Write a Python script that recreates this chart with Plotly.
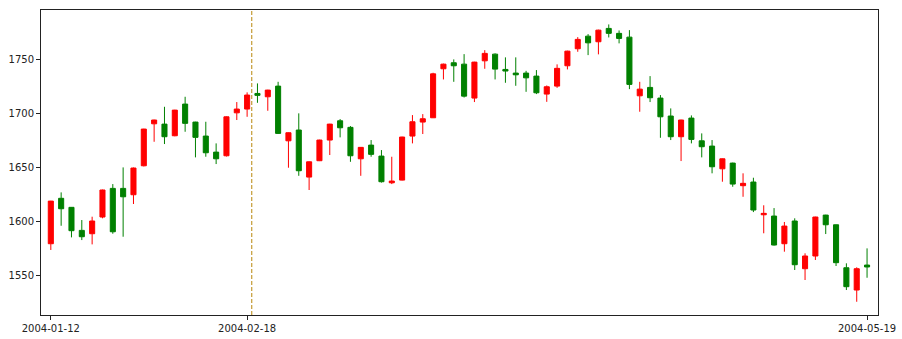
import plotly.graph_objects as go

dates = [
    "2004-01-12", "2004-01-13", "2004-01-14", "2004-01-15", "2004-01-16",
    "2004-01-29", "2004-01-30",
    "2004-02-02", "2004-02-03", "2004-02-04", "2004-02-05", "2004-02-06",
    "2004-02-09", "2004-02-10", "2004-02-11", "2004-02-12", "2004-02-13",
    "2004-02-16", "2004-02-17", "2004-02-18", "2004-02-19", "2004-02-20",
    "2004-02-23", "2004-02-24", "2004-02-25", "2004-02-26", "2004-02-27",
    "2004-03-01", "2004-03-02", "2004-03-03", "2004-03-04", "2004-03-05",
    "2004-03-08", "2004-03-09", "2004-03-10", "2004-03-11", "2004-03-12",
    "2004-03-15", "2004-03-16", "2004-03-17", "2004-03-18", "2004-03-19",
    "2004-03-22", "2004-03-23", "2004-03-24", "2004-03-25", "2004-03-26",
    "2004-03-29", "2004-03-30", "2004-03-31",
    "2004-04-01", "2004-04-02",
    "2004-04-05", "2004-04-06", "2004-04-07", "2004-04-08", "2004-04-09",
    "2004-04-12", "2004-04-13", "2004-04-14", "2004-04-15", "2004-04-16",
    "2004-04-19", "2004-04-20", "2004-04-21", "2004-04-22", "2004-04-23",
    "2004-04-26", "2004-04-27", "2004-04-28", "2004-04-29", "2004-04-30",
    "2004-05-10", "2004-05-11", "2004-05-12", "2004-05-13", "2004-05-14",
    "2004-05-17", "2004-05-18", "2004-05-19",
]

opens = [
    1579.2, 1621.4, 1613.0, 1591.6, 1588.5, 1604.0, 1630.6, 1630.6, 1624.7, 1651.6,
    1690.6, 1690.3, 1679.5, 1708.9, 1692.2, 1679.2, 1664.3, 1660.9, 1700.8, 1704.3,
    1718.8, 1715.7, 1725.6, 1674.8, 1684.8, 1641.1, 1656.3, 1675.5, 1693.4, 1687.3,
    1658.1, 1670.8, 1660.6, 1635.8, 1638.3, 1679.2, 1692.2, 1696.2, 1741.7, 1747.3,
    1746.0, 1714.5, 1749.1, 1755.3, 1741.1, 1737.7, 1737.7, 1734.9, 1718.2, 1725.6,
    1744.5, 1760.3, 1772.0, 1766.8, 1779.2, 1774.6, 1771.1, 1716.6, 1724.4, 1714.5,
    1697.8, 1678.6, 1695.9, 1674.8, 1669.9, 1648.8, 1654.1, 1633.1, 1636.5, 1606.1,
    1604.9, 1579.2, 1600.3, 1556.0, 1567.8, 1605.8, 1596.8, 1556.9, 1536.2, 1559.4,
]
highs = [
    1619.0, 1626.9, 1613.3, 1601.2, 1604.3, 1629.5, 1634.6, 1650.1, 1650.0, 1686.0,
    1694.4, 1706.4, 1703.6, 1715.7, 1692.5, 1692.5, 1672.4, 1697.5, 1710.8, 1719.8,
    1728.1, 1722.2, 1729.6, 1682.6, 1700.3, 1655.6, 1675.8, 1690.6, 1695.0, 1688.5,
    1669.0, 1675.5, 1666.2, 1660.0, 1678.6, 1698.7, 1699.6, 1738.0, 1746.5, 1750.4,
    1755.3, 1748.2, 1759.0, 1756.0, 1752.3, 1752.3, 1739.8, 1740.5, 1726.2, 1745.8,
    1758.5, 1771.1, 1773.9, 1778.0, 1782.9, 1777.3, 1777.6, 1729.6, 1734.9, 1717.3,
    1704.9, 1694.4, 1698.4, 1681.7, 1675.5, 1658.4, 1654.5, 1644.6, 1640.5, 1614.9,
    1612.3, 1599.4, 1602.8, 1570.3, 1604.3, 1606.1, 1597.0, 1561.0, 1557.3, 1574.9,
]
lows = [
    1573.4, 1595.9, 1585.1, 1582.6, 1578.6, 1602.8, 1588.5, 1585.7, 1616.1, 1651.0,
    1673.9, 1671.8, 1679.0, 1683.2, 1659.4, 1660.0, 1653.2, 1660.2, 1694.1, 1697.1,
    1710.1, 1702.7, 1681.2, 1649.8, 1642.3, 1629.1, 1656.0, 1661.6, 1678.0, 1655.3,
    1642.3, 1660.0, 1636.0, 1634.6, 1638.0, 1672.4, 1681.1, 1696.0, 1731.8, 1729.6,
    1715.0, 1710.8, 1741.7, 1731.8, 1728.7, 1725.9, 1720.3, 1718.2, 1711.0, 1724.0,
    1741.1, 1757.5, 1754.4, 1755.1, 1770.8, 1765.3, 1722.8, 1701.8, 1710.8, 1677.6,
    1675.5, 1656.0, 1672.4, 1659.4, 1644.6, 1636.8, 1632.1, 1622.8, 1608.6, 1588.9,
    1577.5, 1571.8, 1554.8, 1545.5, 1564.1, 1588.2, 1558.5, 1536.2, 1525.3, 1547.6,
]
closes = [
    1618.8, 1611.7, 1591.3, 1585.7, 1600.3, 1629.1, 1590.3, 1622.8, 1649.5, 1685.7,
    1694.1, 1678.6, 1703.3, 1691.0, 1678.0, 1663.7, 1658.1, 1697.1, 1704.3, 1717.3,
    1717.0, 1721.9, 1681.7, 1682.3, 1647.0, 1655.3, 1675.5, 1690.3, 1686.9, 1660.9,
    1668.7, 1662.2, 1636.8, 1637.4, 1678.3, 1692.5, 1695.3, 1737.0, 1746.0, 1744.5,
    1716.3, 1747.9, 1756.0, 1741.4, 1739.6, 1736.1, 1733.3, 1719.4, 1725.0, 1742.1,
    1758.1, 1769.0, 1765.8, 1777.6, 1774.6, 1769.9, 1727.2, 1722.8, 1714.8, 1697.1,
    1678.6, 1694.1, 1676.1, 1669.3, 1650.7, 1658.1, 1634.6, 1635.3, 1610.5, 1607.4,
    1578.0, 1595.6, 1559.7, 1567.8, 1604.0, 1596.8, 1561.6, 1539.3, 1556.0, 1557.6,
]

tick_dates = ["2004-01-12", "2004-02-18", "2004-05-19"]
y_ticks = [1550, 1600, 1650, 1700, 1750]
marker_date = "2004-02-18"

xs = list(range(len(dates)))
tick_idx = [dates.index(d) for d in tick_dates]

fig = go.Figure()
fig.add_trace(go.Candlestick(
    x=xs, open=opens, high=highs, low=lows, close=closes,
    increasing=dict(fillcolor="#ff0000", line=dict(color="#ff0000", width=1)),
    decreasing=dict(fillcolor="#008000", line=dict(color="#008000", width=1)),
    whiskerwidth=0,
    showlegend=False,
    hoverinfo="x+y",
))

fig.add_vline(x=dates.index(marker_date) + 0.45,
              line=dict(color="#b8860b", width=1, dash="4px,2px"))

fig.update_layout(
    width=902, height=339,
    margin=dict(l=41, r=24, t=10, b=24, autoexpand=False),
    paper_bgcolor="white", plot_bgcolor="white",
    font=dict(family="DejaVu Sans", size=10, color="#222222"),
    boxgap=0.3,
)
fig.update_xaxes(
    range=[-0.95, 80.06], automargin=False,
    rangeslider=dict(visible=False),
    tickmode="array", tickvals=tick_idx, ticktext=tick_dates,
    showgrid=False, zeroline=False,
    showline=True, linecolor="#222222", linewidth=1, mirror=True,
    ticks="outside", ticklen=4, tickcolor="#222222",
)
fig.update_yaxes(
    range=[1513.0, 1796.3], automargin=False,
    tickmode="array", tickvals=y_ticks,
    showgrid=False, zeroline=False,
    showline=True, linecolor="#222222", linewidth=1, mirror=True,
    ticks="outside", ticklen=4, tickcolor="#222222",
)

fig.write_html("out.html")
